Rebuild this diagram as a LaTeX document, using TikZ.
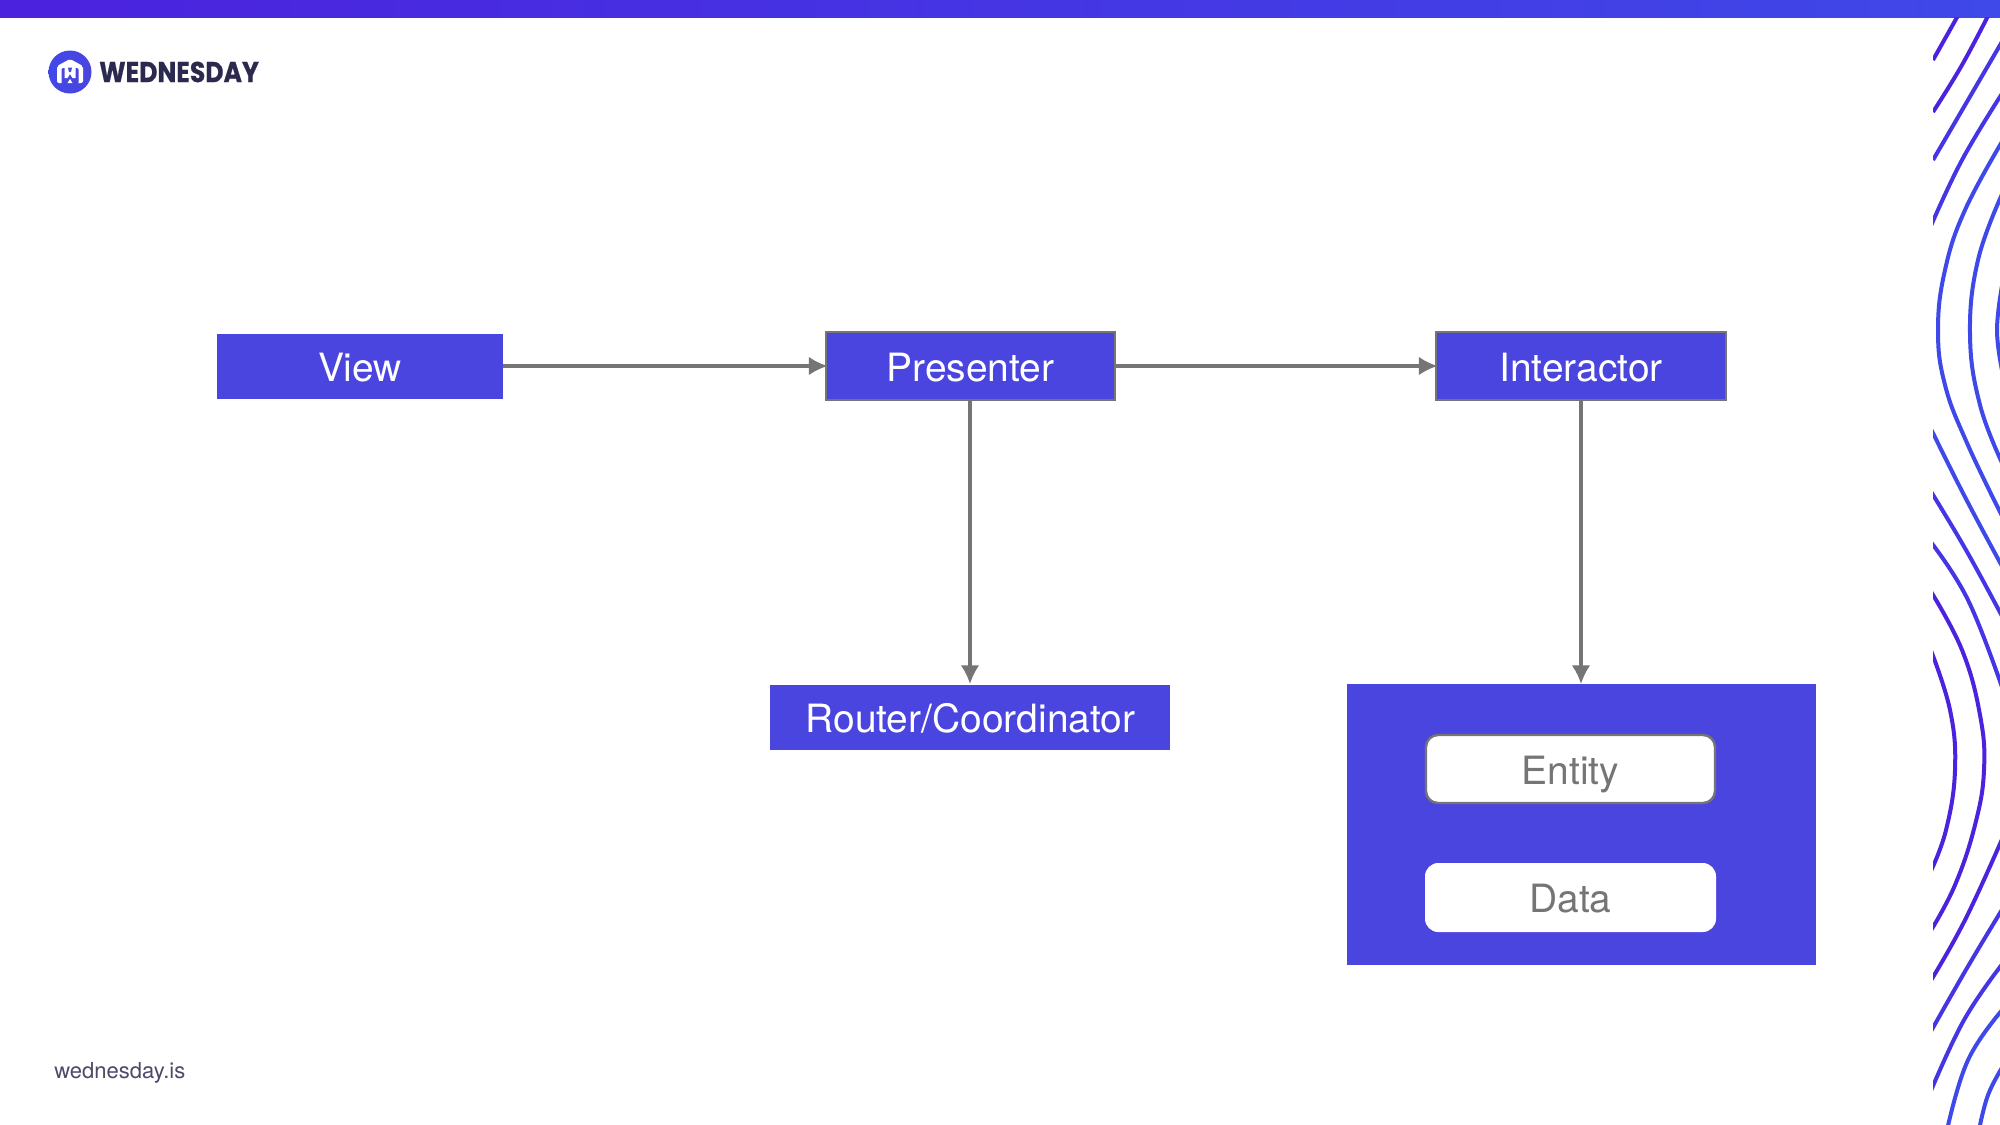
\documentclass[tikz,border=0pt]{standalone}
\usepackage{fontspec}
\usepackage{graphicx}
\setmainfont{TeX Gyre Heros}
\newfontfamily\logofont[FakeBold=0.6]{Poppins Bold}
\usetikzlibrary{arrows.meta}
\definecolor{boxblue}{HTML}{4B45E0}
\definecolor{linegray}{HTML}{757575}
\definecolor{wpurple}{HTML}{4B22DE}
\definecolor{wmid}{HTML}{4535E4}
\definecolor{wblue}{HTML}{3F48E8}
\definecolor{logoink}{HTML}{2B2A4E}
\tikzset{
  x=0.75pt,y=-0.75pt,
  flowbox/.style={draw=#1,line width=1.8pt,fill=boxblue},
  boxtext/.style={text=white,font=\fontsize{29.2}{35}\selectfont,inner sep=0pt},
  graytext/.style={text=linegray,font=\fontsize{29.2}{35}\selectfont,inner sep=0pt},
  flow/.style={draw=linegray,line width=2.3pt,-{Latex[length=14pt,width=14pt]}},
  wave/.style={line width=3pt,smooth,tension=0.7},
}
\begin{document}
\begin{tikzpicture}
\useasboundingbox (0,0) rectangle (2000,1125);
\fill[white] (0,0) rectangle (2000,1125);
% top band
\shade[left color=wpurple,right color=wblue] (0,0) rectangle (2000,17);
% waves
\begin{scope}
\clip (1933,17) rectangle (2000,1125);
\draw[wave,wpurple] plot coordinates {(1960,12) (1933,60)};
\draw[wave,wpurple] plot coordinates {(1990,12) (1962,65) (1933,112)};
\draw[wave,wmid] plot coordinates {(2003,40) (1968,100) (1933,160)};
\draw[wave,wmid] plot coordinates {(2003,92) (1962,160) (1930,228)};
\draw[wave,wblue] plot coordinates {(2003,140) (1965,210) (1945,270) (1938,330) (1945,385) (1967,443) (2003,518)};
\draw[wave,wblue] plot coordinates {(2003,192) (1978,260) (1970,335) (1980,405) (2003,465)};
\draw[wave,wblue] plot coordinates {(2003,280) (1997,330) (2003,375)};
\draw[wave,wblue] plot coordinates {(1930,427) (1965,497) (2003,568)};
\draw[wave,wmid] plot coordinates {(1930,490) (1966,550) (2003,618)};
\draw[wave,wmid] plot coordinates {(1930,541) (1968,600) (2003,690)};
\draw[wave,wpurple] plot coordinates {(1930,590) (1962,650) (1980,715) (1984,770) (1975,825) (1955,885) (1930,932)};
\draw[wave,wpurple] plot coordinates {(1930,648) (1950,710) (1955,770) (1946,830) (1930,873)};
\draw[wave,wpurple] plot coordinates {(2003,837) (1965,920) (1930,982)};
\draw[wave,wmid] plot coordinates {(2003,908) (1967,968) (1930,1033)};
\draw[wave,wmid] plot coordinates {(2003,963) (1964,1020) (1930,1093)};
\draw[wave,wblue] plot coordinates {(2003,1009) (1968,1060) (1947,1130)};
\draw[wave,wblue] plot coordinates {(2003,1066) (1988,1095) (1979,1130)};
\end{scope}
% logo
\shade[left color=wblue,right color=boxblue] (70,72) circle (21.5);
\fill[white,rounded corners=1.5pt] (57,66) -- (70,59) -- (83,66) -- (83,83) -- (57,83) -- cycle;
\fill[boxblue,rounded corners=1pt] (61.5,68) -- (78.5,68) -- (78.5,84) -- (61.5,84) -- cycle;
\fill[white] (64.5,66) -- (75.5,66) -- (75.5,78) -- (72.5,78) -- (70,74) -- (67.5,78) -- (64.5,78) -- cycle;
\fill[boxblue] (68,67.5) -- (69,72) -- (71,72) -- (72,67.5) -- cycle;
\fill[white] (70,79) -- (72.5,83) -- (67.5,83) -- cycle;
\node[name=logo,anchor=west,inner sep=0pt,text=logoink] at (99,72) {\scalebox{0.875}[1]{\logofont\fontsize{21.5}{25}\selectfont WEDNESDAY}};
% boxes
\fill[boxblue] (217,334) rectangle (503,399);
\node[boxtext] (view) at (360,367.5) {View};
\coordinate (viewb) at (503,366);
\draw[flowbox=linegray] (826,332) rectangle (1115,400);
\node[boxtext] (pres) at (970.5,368) {Presenter};
\draw[flowbox=linegray] (1436,332) rectangle (1726,400);
\node[boxtext] (inter) at (1581,368) {Interactor};
\fill[boxblue] (770,685) rectangle (1170,750);
\node[boxtext] (router) at (970.5,718.5) {Router/Coordinator};
\fill[boxblue] (1347,684) rectangle (1816,965);
\draw[draw=linegray,line width=1.8pt,fill=white,rounded corners=9pt] (1426,735) rectangle (1715,803);
\node[graytext] (entity) at (1570.5,774.5) {Entity};
\fill[white,rounded corners=10pt] (1425,863) rectangle (1716,932);
\node[graytext] (data) at (1570.5,898.5) {Data};
% connectors
\coordinate (presL) at (827.5,366);
\coordinate (presR) at (1115,366);
\coordinate (interL) at (1437.5,366);
\coordinate (presB) at (970,400);
\coordinate (routerT) at (970,684);
\coordinate (interB) at (1581,400);
\coordinate (contT) at (1581,684);
\draw[flow] (viewb) -- (presL);
\draw[flow] (presR) -- (interL);
\draw[flow] (presB) -- (routerT);
\draw[flow] (interB) -- (contT);
% footer
\node[name=foot,anchor=west,inner sep=0pt,text=logoink!85,font=\fontsize{16.5}{20}\selectfont] at (54,1073) {wednesday.is};
\end{tikzpicture}
\end{document}
